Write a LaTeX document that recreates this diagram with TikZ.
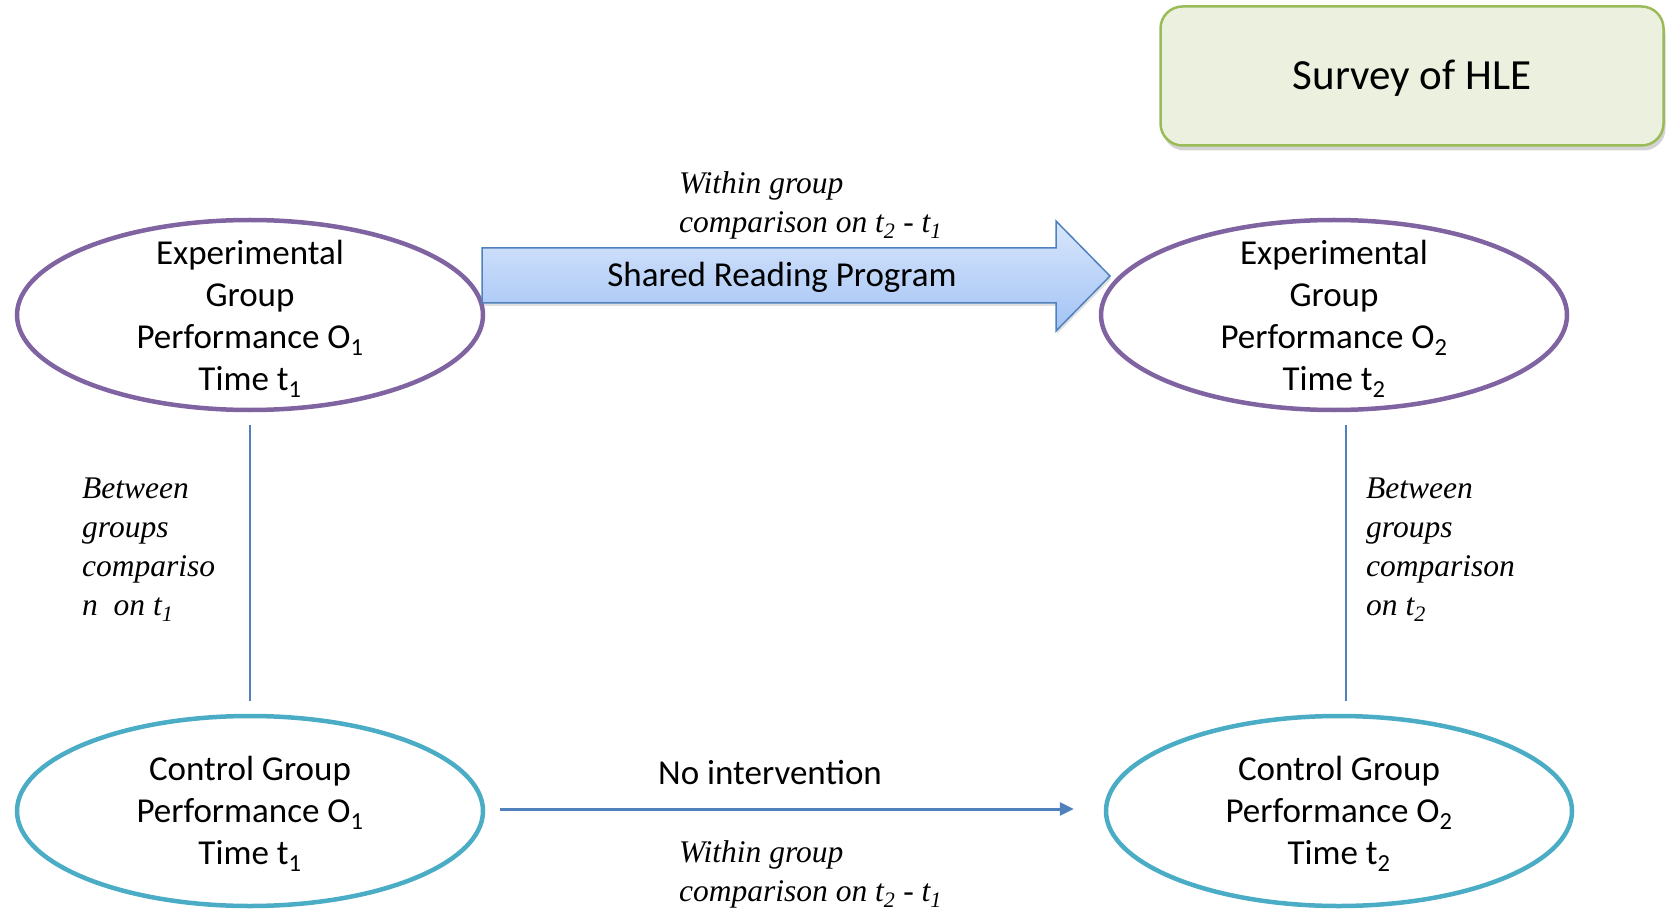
\documentclass[tikz,border=0pt]{standalone}
\usepackage{fontspec}
\setmainfont{Carlito}
\newfontfamily\tnr{Liberation Serif}
\usetikzlibrary{shapes.geometric,shadows,arrows.meta}
\definecolor{expc}{HTML}{8064A2}
\definecolor{ctlc}{HTML}{4BACC6}
\definecolor{linec}{HTML}{4F81BD}
\definecolor{hlefill}{HTML}{EBF1DE}
\definecolor{hledraw}{HTML}{9BBB59}
\definecolor{arrtop}{RGB}{217,230,252}
\definecolor{arrbot}{RGB}{162,195,245}
\begin{document}
\begin{tikzpicture}[x=1pt,y=-1pt,
  lbl/.style={font=\fontsize{35}{42}\selectfont, align=center, inner sep=0},
  ital/.style={font=\fontsize{31.5}{39}\selectfont\tnr\itshape, align=left, inner sep=0},
  grpE/.style={ellipse, draw=expc, line width=4.5pt, minimum width=466pt, minimum height=190pt, inner sep=0},
  grpC/.style={grpE, draw=ctlc},
  link/.style={draw=linec, line width=1.5pt},
  flow/.style={draw=linec, line width=3pt, -{Triangle[length=14pt,width=13pt]}},
]
\useasboundingbox (0,0) rectangle (1668,909);

% Survey box
\node[draw=hledraw, fill=hlefill, line width=2.5pt, rounded corners=22pt,
      minimum width=503pt, minimum height=139pt, inner sep=0,
      drop shadow={opacity=0.35, shadow xshift=2pt, shadow yshift=-5pt},
      font=\fontsize{43}{50}\selectfont, text depth=3pt] (hle) at (1412,76) {Survey of HLE};

% ellipses
\node[grpE] (e1) at (250,315) {};
\node[grpE] (e2) at (1334,315) {};
\node[grpC] (c1) at (250,811) {};
\node[grpC] (c2) at (1339,811) {};

\node[lbl] (e1t) at ([yshift=-4pt]e1.center) {Experimental\\Group\\Performance O\textsubscript{1}\\Time t\textsubscript{1}};
\node[lbl] (e2t) at ([yshift=-4pt]e2.center) {Experimental\\Group\\Performance O\textsubscript{2}\\Time t\textsubscript{2}};
\node[lbl] (c1t) at ([yshift=-3pt]c1.center) {Control Group\\Performance O\textsubscript{1}\\Time t\textsubscript{1}};
\node[lbl] (c2t) at ([yshift=-3pt]c2.center) {Control Group\\Performance O\textsubscript{2}\\Time t\textsubscript{2}};

% big arrow
\path[draw=linec, line width=1.5pt, top color=arrtop, bottom color=arrbot,
      drop shadow={opacity=0.25, shadow xshift=1pt, shadow yshift=-3pt}]
  (482,248) -- (1056,248) -- (1056,221) -- (1110,276) -- (1056,331) -- (1056,303) -- (482,303) -- cycle;
\node[lbl] (srp) at (782,277) {Shared Reading Program};

\node[ital, anchor=west] (wg1) at (679,205) {Within group\\comparison on t\textsubscript{2} - t\textsubscript{1}};

% vertical links
\draw[link] ([yshift=-13pt]e1.south) -- ([yshift=13pt]c1.north);
\draw[link] ([xshift=12pt,yshift=-13pt]e2.south) -- ([xshift=7pt,yshift=13pt]c2.north);

\node[ital, anchor=west] (bg1) at (82,550) {Between\\groups\\compariso\\n\ \ on t\textsubscript{1}};
\node[ital, anchor=west] (bg2) at (1366,550) {Between\\groups\\comparison\\on t\textsubscript{2}};

% bottom arrow
\draw[flow, shorten <=15pt, shorten >=30pt] ([yshift=2pt]c1.east) -- ([yshift=2pt]c2.west);
\node[lbl] (noi) at (770,773) {No intervention};
\node[ital, anchor=west] (wg2) at (679,874) {Within group\\comparison on t\textsubscript{2} - t\textsubscript{1}};
\end{tikzpicture}
\end{document}
